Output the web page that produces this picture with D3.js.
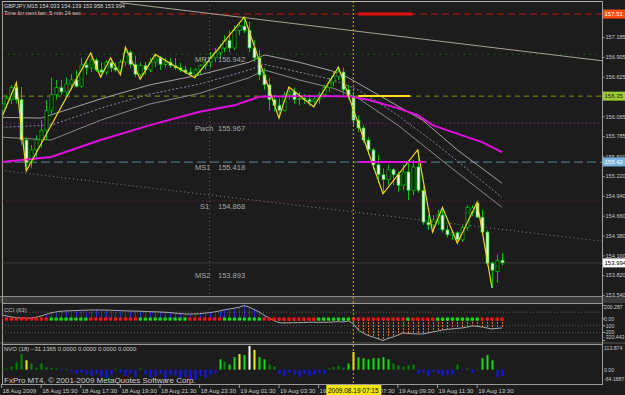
<!DOCTYPE html>
<html>
<head>
<meta charset="utf-8">
<script src="https://cdn.jsdelivr.net/npm/d3@7"></script>
<style>
  html, body { margin: 0; padding: 0; background: #1c1c1c; }
  svg { display: block; }
  text { font-family: "Liberation Sans", Arial, sans-serif; }
</style>
</head>
<body>
<div id="chart"></div>
<script>
// ---------- данные ----------
const symbol = 'GBPJPY,M15';
const firstBarTime = new Date(2009, 7, 18, 13, 30);
const barMinutes = 15;
const visibleBars = 121.2;

const barOpen = [156.15,156.24,156.30,156.47,156.30,155.73,155.41,155.59,155.73,155.87,
  156.15,156.37,156.47,156.41,156.52,156.58,156.49,156.79,156.75,156.86,
  156.72,156.69,156.83,156.75,156.72,156.83,156.97,156.80,156.66,156.78,
  156.72,156.83,156.89,156.80,156.83,156.78,156.75,156.72,156.69,156.66,
  156.72,156.78,156.83,156.89,156.97,157.03,157.14,157.03,157.28,157.34,
  157.28,157.03,156.89,156.65,156.51,156.30,156.22,156.15,156.37,156.41,
  156.30,156.32,156.30,156.27,156.31,156.37,156.47,156.55,156.63,156.69,
  156.44,156.35,156.01,155.90,155.73,155.59,155.38,155.24,155.17,155.31,
  155.24,155.09,155.28,155.02,155.35,155.02,154.57,154.53,154.60,154.67,
  154.46,154.39,154.42,154.32,154.49,154.70,154.84,154.64,154.43,153.99,
  153.87,154.033];
const barHigh = [156.30,156.37,156.51,156.54,156.48,155.77,155.66,155.80,156.01,156.30,
  156.61,156.58,156.58,156.61,156.66,156.72,156.89,156.86,156.96,156.89,
  156.83,156.86,156.89,156.83,156.86,157.04,157.00,156.92,156.83,156.83,
  156.89,156.94,156.92,156.89,156.89,156.89,156.82,156.78,156.75,156.75,
  156.80,156.89,156.97,157.03,157.09,157.21,157.28,157.35,157.40,157.47,
  157.40,157.14,157.00,156.75,156.61,156.37,156.32,156.41,156.48,156.47,
  156.41,156.38,156.37,156.35,156.41,156.51,156.61,156.69,156.76,156.75,
  156.51,156.41,156.08,155.94,155.77,155.62,155.52,155.33,155.38,155.33,
  155.28,155.38,155.45,155.45,155.59,155.09,154.67,154.67,154.74,154.78,
  154.53,154.46,154.44,154.53,154.81,154.81,154.85,154.74,154.46,154.01,
  154.11,154.139];
const barLow = [156.04,156.18,156.24,156.25,155.66,155.29,155.33,155.48,155.62,155.73,
  156.08,156.30,156.37,156.35,156.44,156.47,156.47,156.65,156.69,156.69,
  156.62,156.65,156.69,156.69,156.65,156.78,156.75,156.62,156.59,156.65,
  156.69,156.76,156.72,156.75,156.75,156.72,156.69,156.66,156.63,156.61,
  156.66,156.72,156.75,156.83,156.89,156.97,156.97,157.00,157.21,157.24,
  156.97,156.83,156.58,156.44,156.15,156.13,156.04,156.13,156.30,156.24,
  156.22,156.24,156.21,156.20,156.24,156.32,156.41,156.49,156.58,156.37,
  156.30,155.94,155.84,155.69,155.52,155.31,155.12,154.97,155.09,155.09,
  155.00,155.02,154.88,154.95,154.98,154.53,154.46,154.43,154.53,154.42,
  154.35,154.32,154.27,154.29,154.45,154.66,154.63,154.39,153.96,153.64,
  153.71,153.958];
const barClose = [156.24,156.32,156.47,156.30,155.73,155.41,155.59,155.73,155.87,156.15,
  156.37,156.47,156.41,156.52,156.58,156.49,156.79,156.75,156.86,156.72,
  156.69,156.83,156.75,156.72,156.83,156.97,156.80,156.66,156.78,156.72,
  156.83,156.89,156.80,156.83,156.78,156.75,156.72,156.69,156.66,156.72,
  156.78,156.83,156.89,156.97,157.03,157.14,157.03,157.28,157.34,157.28,
  157.03,156.89,156.65,156.51,156.30,156.22,156.15,156.37,156.41,156.30,
  156.32,156.30,156.27,156.31,156.37,156.47,156.55,156.63,156.69,156.44,
  156.35,156.01,155.90,155.73,155.59,155.38,155.24,155.17,155.31,155.24,
  155.09,155.28,155.02,155.35,155.02,154.57,154.53,154.60,154.67,154.46,
  154.39,154.42,154.32,154.49,154.78,154.77,154.64,154.43,153.99,153.89,
  154.03,153.994];

// вершины ZigZag: номер бара, чередуются минимум / максимум
const zigzagBars = [0,3,5,18,20,22,24,25,28,31,39,49,56,58,63,68,77,84,87,89,92,96,99];

// скользящие и огибающие: [бар, цена]
const maSlow = [[0,155.42],[10,155.49],[20,155.73],[30,155.94],[40,156.13],[47,156.22],[52,156.34],
  [60,156.35],[70,156.35],[74,156.30],[80,156.18],[84,156.08],[87,155.94],[94,155.77],[97,155.70],[101,155.56]];
const envUpper = [[0,156.05],[8,156.04],[12,156.13],[20,156.31],[30,156.51],[40,156.65],[50,156.83],[53,156.93],
  [54,156.92],[60,156.83],[67,156.70],[70,156.61],[76,156.37],[85,156.01],[92,155.59],[101,155.12]];
const envMid = [[0,155.91],[10,155.94],[20,156.18],[30,156.38],[40,156.52],[50,156.72],[53,156.80],[60,156.69],
  [67,156.58],[72,156.44],[80,156.08],[88,155.66],[101,154.92]];
const envLower = [[0,155.77],[10,155.73],[20,156.01],[30,156.24],[40,156.39],[50,156.61],[53,156.72],[60,156.58],
  [67,156.46],[72,156.32],[80,155.94],[90,155.38],[101,154.78]];
const trendTop = [[24,157.67],[121.2,156.85]];
const trendBottom = [[0,155.30],[121.2,154.30]];

const pivotNames = ['MR1', 'Pwch', 'MS1', 'S1', 'MS2'];
const pivotValues = [156.942, 155.967, 155.418, 154.868, 153.893];

// 156.345 закрыта меткой 156.35, поэтому её подпись не выводится
const priceTicks = [157.185,156.905,156.625,156.065,155.785,155.500,155.220,154.940,154.660,154.380,154.100,153.820,153.540];
const markerValues = [157.51, 156.35, 155.42, 153.994];
const markerLabels = ['157.51', '156.35', '155.42', '153.994'];

const cciValues = [60,45,30,20,15,12,15,25,45,70,
  90,105,115,119,122,125,128,130,134,134,
  134,132,130,127,124,120,119,117,115,112,
  108,106,104,100,95,88,80,75,72,75,
  78,88,95,105,120,135,150,160,175,200.287,
  175,140,104,55,15,-25,-55,-60,-58,-55,
  -55,-52,-50,-48,-50,-50,-48,-45,-40,-45,
  -30,-70,-164,-210,-245,-270,-295,-320.443,-290,-269,
  -240,-209,-215,-220,-222,-224,-210,-194,-180,-164,
  -155,-148,-140,-134,-120,-104,-110,-119,-135,-149,
  -140,-134];
const cciDots = 'rrrrrrrrrrggggggggrrrrrrrrrrggggggggggrrrrrrrggggggggrrrrrrrrrrrgggggggrrrrrrrrrrrgrrrrrgggggggggrrrrr';
const cciLevels = [100, -100, -200];

const nvoValues = [10,5,15,35,75,45,30,10,30,12,
  8,5,-5,4,-8,-20,-15,-25,-30,-20,
  -35,-40,-25,5,-15,-30,-20,-35,6,-25,
  -40,-30,-20,-45,-25,-30,-40,-35,-45,-50,
  -30,-40,-25,-20,50,40,25,60,75,70,
  113.874,95,60,50,25,15,-20,-30,-15,-25,
  -35,-20,-30,-25,-15,-20,5,12,20,10,
  30,85,60,55,50,55,55,60,50,30,
  20,15,20,25,-20,-15,-30,-10,-20,-30,
  -25,-25,25,-5,5,-15,3,55,70,45,
  -35,-31.1365];
const nvoColors = 'dddddyddddddbdbbbbbbbbbdbbbbdbbbbbbbbbbbbbbbldllylwylldd' +
  'bbbbbbbbbbddddlylllllllddddd' + 'bbbbbbbbdbdbdlllbb';

const timeTickTimes = ['2009-08-18 13:30','2009-08-18 15:30','2009-08-18 17:30','2009-08-18 19:30','2009-08-18 21:30',
  '2009-08-18 23:30','2009-08-19 01:30','2009-08-19 03:30','2009-08-19 05:30','2009-08-19 07:30','2009-08-19 09:30',
  '2009-08-19 11:30','2009-08-19 13:30'];
const timeTickLabels = ['18 Aug 2009','18 Aug 15:30','18 Aug 17:30','18 Aug 19:30','18 Aug 21:30','18 Aug 23:30',
  '19 Aug 01:30','19 Aug 03:30','19 Aug 05:30','19 Aug 07:30','19 Aug 09:30','19 Aug 11:30','19 Aug 13:30'];
const daySeparator = '2009-08-19 00:00';
const markedTime = '2009-08-19 07:15';

// ---------- настройки ----------
const W = 625;
const H = 395;
const BG = '#1c1c1c';
const GREEN = '#00c000';
const main = { left: 2, right: 602, top: 1, bottom: 296 };
const cciBox = { top: 303, bottom: 342, yTop: 305.5, yBottom: 340.5 };
const nvoBox = { top: 344, bottom: 384, yTop: 346, yBottom: 383 };

const parseTime = d3.timeParse('%Y-%m-%d %H:%M');
const barTime = (i) => d3.timeMinute.offset(firstBarTime, barMinutes * i);

const x = d3.scaleTime()
  .domain([firstBarTime, d3.timeMinute.offset(firstBarTime, barMinutes * visibleBars)])
  .range([1.5, 602]);
const xb = (i) => x(barTime(i));

const y = d3.scaleLinear().domain([153.526, 157.694]).range([main.bottom, main.top]);
const yCci = d3.scaleLinear().domain([-320.443, 200.287]).range([cciBox.yBottom, cciBox.yTop]);
const yNvo = d3.scaleLinear().domain([-64.1887, 113.874]).range([nvoBox.yBottom, nvoBox.yTop]);

const bars = barOpen.map((o, i) => ({
  i, o, h: barHigh[i], l: barLow[i], c: barClose[i],
}));

const svg = d3.select('#chart').append('svg')
  .attr('width', W)
  .attr('height', H);

svg.append('rect').attr('width', W).attr('height', H).attr('fill', BG);

const defs = svg.append('defs');
defs.append('clipPath').attr('id', 'clipMain').append('rect')
  .attr('x', main.left + 0.5).attr('y', main.top + 0.5)
  .attr('width', main.right - main.left - 0.5).attr('height', main.bottom - main.top - 0.5);
defs.append('clipPath').attr('id', 'clipCci').append('rect')
  .attr('x', main.left + 0.5).attr('y', cciBox.top + 0.5)
  .attr('width', main.right - main.left - 0.5).attr('height', cciBox.bottom - cciBox.top - 0.5);
defs.append('clipPath').attr('id', 'clipNvo').append('rect')
  .attr('x', main.left + 0.5).attr('y', nvoBox.top + 0.5)
  .attr('width', main.right - main.left - 0.5).attr('height', nvoBox.bottom - nvoBox.top - 0.5);

// ---------- рамки и разделители окон ----------
svg.append('rect').attr('x', 0).attr('y', main.bottom).attr('width', W).attr('height', cciBox.top - main.bottom)
  .attr('fill', '#3a3a3a');
svg.append('line').attr('x1', 0).attr('x2', main.right).attr('y1', main.bottom + 0.5).attr('y2', main.bottom + 0.5)
  .attr('stroke', '#8a8a8a');
svg.append('rect').attr('x', 0).attr('y', cciBox.bottom).attr('width', W).attr('height', nvoBox.top - cciBox.bottom)
  .attr('fill', '#3a3a3a');

const hLine = (yy, x1, x2, color) => svg.append('line')
  .attr('x1', x1).attr('x2', x2).attr('y1', yy).attr('y2', yy).attr('stroke', color);
hLine(main.top + 0.5, main.left, main.right, '#b4b4b4');
hLine(cciBox.top + 0.5, main.left, main.right, '#9a9a9a');
hLine(nvoBox.top + 0.5, main.left, main.right, '#9a9a9a');
hLine(nvoBox.bottom + 0.5, main.left, main.right, '#9a9a9a');
svg.append('line').attr('x1', main.left + 0.5).attr('x2', main.left + 0.5)
  .attr('y1', main.top).attr('y2', nvoBox.bottom).attr('stroke', '#a8a090');
svg.append('line').attr('x1', main.right + 0.5).attr('x2', main.right + 0.5)
  .attr('y1', main.top).attr('y2', nvoBox.bottom + 1).attr('stroke', '#a0a0a0');

// ---------- основное окно ----------
const gMain = svg.append('g').attr('clip-path', 'url(#clipMain)');

// вертикальные разделители
gMain.append('line')
  .attr('x1', x(parseTime(daySeparator))).attr('x2', x(parseTime(daySeparator)))
  .attr('y1', main.top).attr('y2', main.bottom)
  .attr('stroke', '#6a6a6a').attr('stroke-dasharray', '1,3');

// уровни
const levelLine = (v, color, dash, width = 1) => gMain.append('line')
  .attr('x1', main.left).attr('x2', main.right)
  .attr('y1', y(v)).attr('y2', y(v))
  .attr('stroke', color).attr('stroke-width', width).attr('stroke-dasharray', dash);
levelLine(markerValues[0], '#c81414', '7,4');
levelLine(markerValues[1], '#7a9a14', '5,4');
levelLine(pivotValues[0], '#127a12', '1,5');
levelLine(pivotValues[1], '#a020a0', '1,3');
levelLine(pivotValues[2], '#5a8a9a', '9,4');
levelLine(pivotValues[3], '#8a2424', '1,3');
levelLine(markerValues[3], '#3e3e3e', null);

// трендовые линии
const line = d3.line().x((d) => xb(d[0])).y((d) => y(d[1]));
gMain.append('path').attr('d', line(trendTop)).attr('fill', 'none')
  .attr('stroke', '#aaa496').attr('stroke-width', 1);
gMain.append('path').attr('d', line(trendBottom)).attr('fill', 'none')
  .attr('stroke', '#8a8a8a').attr('stroke-dasharray', '1,3');

// огибающие
gMain.append('path').attr('d', line(envUpper)).attr('fill', 'none').attr('stroke', '#a4a4a4');
gMain.append('path').attr('d', line(envMid)).attr('fill', 'none').attr('stroke', '#8c8cac')
  .attr('stroke-dasharray', '2,2');
gMain.append('path').attr('d', line(envLower)).attr('fill', 'none').attr('stroke', '#8c8c8c');

// свечи
const candles = gMain.selectAll('g.candle').data(bars).join('g').attr('class', 'candle');
candles.append('line')
  .attr('x1', (d) => Math.round(xb(d.i)) + 0.5).attr('x2', (d) => Math.round(xb(d.i)) + 0.5)
  .attr('y1', (d) => y(d.h)).attr('y2', (d) => y(d.l))
  .attr('stroke', GREEN);
candles.append('rect')
  .attr('x', (d) => Math.round(xb(d.i)) - 1)
  .attr('width', 3)
  .attr('y', (d) => y(Math.max(d.o, d.c)))
  .attr('height', (d) => Math.max(1, Math.abs(y(d.o) - y(d.c))))
  .attr('fill', (d) => (d.c < d.o ? '#ffffff' : '#000000'))
  .attr('stroke', GREEN).attr('stroke-width', 0.8);

// медленная скользящая
gMain.append('path').attr('d', line(maSlow)).attr('fill', 'none')
  .attr('stroke', '#e010e0').attr('stroke-width', 2);

// ZigZag
const zigzag = zigzagBars.map((b, k) => [b, k % 2 === 0 ? barLow[b] : barHigh[b]]);
gMain.append('path').attr('d', line(zigzag)).attr('fill', 'none')
  .attr('stroke', '#f2d21a').attr('stroke-width', 1.2);

// отметки уровней после 07:15
const segStart = 72;
const segEnds = [83, 82.5, 85.5];
const segColors = ['#e01010', '#ffe020', '#e010e0'];
const segWidths = [3, 2, 2];
[markerValues[0], markerValues[1], markerValues[2]].forEach((v, k) => {
  gMain.append('line')
    .attr('x1', xb(segStart)).attr('x2', xb(segEnds[k]))
    .attr('y1', y(v)).attr('y2', y(v))
    .attr('stroke', segColors[k]).attr('stroke-width', segWidths[k]);
});

// подписи пивотов
const pivotX = [195, 195, 195, 200, 195];
pivotNames.forEach((name, k) => {
  const ty = y(pivotValues[k]) + 8;
  svg.append('text').attr('x', pivotX[k]).attr('y', ty).text(name)
    .attr('fill', '#a8a8a8').attr('font-size', 7.5);
  svg.append('text').attr('x', 218).attr('y', ty).text(d3.format('.3f')(pivotValues[k]))
    .attr('fill', '#a8a8a8').attr('font-size', 7.5);
});

// заголовок
svg.append('text').attr('x', 4).attr('y', 8)
  .text(`${symbol}  ${d3.format('.3f')(barOpen[101])} ${d3.format('.3f')(barHigh[101])} ${d3.format('.3f')(barLow[101])} ${d3.format('.3f')(barClose[101])}`)
  .attr('fill', '#d8d8d8').attr('font-size', 5.6);
svg.append('text').attr('x', 4).attr('y', 15).text('Time for next bar: 5 min 24 sec')
  .attr('fill', '#c8c8c8').attr('font-size', 5.6);

// ценовая шкала
const yAxis = svg.append('g')
  .attr('transform', `translate(${main.right + 0.5},0)`)
  .call(d3.axisRight(y).tickValues(priceTicks).tickSize(2).tickPadding(1)
    .tickFormat(d3.format('.3f')));
yAxis.select('.domain').remove();
yAxis.selectAll('line').attr('stroke', '#a0a0a0');
yAxis.selectAll('text').attr('fill', '#c8c8c8').attr('font-size', 5.6)
  .attr('font-family', '"Liberation Sans", Arial, sans-serif');

const markerBg = ['#ff4a10', '#9acd32', '#7ab4e0', '#ffffff'];
const markerFg = ['#ffffff', '#1c1c1c', '#ffffff', '#000000'];
markerValues.forEach((v, k) => {
  svg.append('rect').attr('x', main.right + 1).attr('y', y(v) - 4.5).attr('width', 22).attr('height', 9)
    .attr('fill', markerBg[k]);
  svg.append('text').attr('x', main.right + 2.5).attr('y', y(v) + 2.3).text(markerLabels[k])
    .attr('fill', markerFg[k]).attr('font-size', 6);
});

// ---------- окно CCI ----------
const gCci = svg.append('g').attr('clip-path', 'url(#clipCci)');
const cciZero = yCci(0);
cciLevels.forEach((lv) => {
  gCci.append('line').attr('x1', main.left).attr('x2', main.right)
    .attr('y1', yCci(lv)).attr('y2', yCci(lv))
    .attr('stroke', '#5a5a5a').attr('stroke-dasharray', '1,2');
});
gCci.selectAll('line.hist').data(cciValues).join('line').attr('class', 'hist')
  .attr('x1', (d, i) => Math.round(xb(i)) + 0.5).attr('x2', (d, i) => Math.round(xb(i)) + 0.5)
  .attr('y1', cciZero).attr('y2', (d) => yCci(d))
  .attr('stroke', (d) => (d >= 0 ? '#2a2ad8' : '#e0702a'))
  .attr('stroke-dasharray', (d) => (d >= 0 ? null : '2,1'));
gCci.append('path')
  .attr('d', d3.line().x((d, i) => xb(i)).y((d) => yCci(d))(cciValues))
  .attr('fill', 'none').attr('stroke', '#a8a8a8');
gCci.selectAll('rect.dot').data(cciDots.split('')).join('rect').attr('class', 'dot')
  .attr('x', (d, i) => xb(i) - 1.5).attr('y', cciZero - 1.5)
  .attr('width', 3.2).attr('height', 3.2)
  .attr('fill', (d) => (d === 'r' ? '#ff1010' : '#10e010'));
svg.append('text').attr('x', 4).attr('y', 312).text('CCI (63)')
  .attr('fill', '#c0c0c0').attr('font-size', 6);

const cciAxisValues = [200.287, 0, -100, -200, -320.443];
const cciAxisLabels = ['200.287', '0.00', '-100', '-200', '-320.443'];
cciAxisValues.forEach((v, k) => {
  const ty = Math.min(cciBox.bottom - 3, Math.max(cciBox.top + 6, yCci(v) + 2));
  svg.append('text').attr('x', 604).attr('y', ty).text(cciAxisLabels[k])
    .attr('fill', '#c8c8c8').attr('font-size', 5.2);
  svg.append('line').attr('x1', main.right).attr('x2', main.right + 3).attr('y1', yCci(v)).attr('y2', yCci(v))
    .attr('stroke', '#a0a0a0');
});

// ---------- окно NVO ----------
const gNvo = svg.append('g').attr('clip-path', 'url(#clipNvo)');
const nvoPalette = { d: '#008a00', l: '#10e010', y: '#f0f010', w: '#ffffff', b: '#1414ff' };
gNvo.selectAll('rect.bar').data(nvoValues).join('rect').attr('class', 'bar')
  .attr('x', (d, i) => Math.round(xb(i)) - 0.5).attr('width', 2)
  .attr('y', (d) => Math.min(yNvo(0), yNvo(d)))
  .attr('height', (d) => Math.abs(yNvo(d) - yNvo(0)))
  .attr('fill', (d, i) => nvoPalette[nvoColors[i]]);
svg.append('text').attr('x', 4).attr('y', 351)
  .text(`NVO (18) ${d3.format('.4f')(nvoValues[101])} 0.0000 0.0000 0.0000 0.0000`)
  .attr('fill', '#c8c8c8').attr('font-size', 6);
const nvoAxisValues = [113.874, 0, -64.1887];
const nvoAxisLabels = ['113.874', '0.00', '-64.1887'];
nvoAxisValues.forEach((v, k) => {
  const ty = Math.min(nvoBox.bottom - 3, Math.max(nvoBox.top + 6, yNvo(v) + 2));
  svg.append('text').attr('x', 604).attr('y', ty).text(nvoAxisLabels[k])
    .attr('fill', '#c8c8c8').attr('font-size', 5.2);
});

// вертикальная линия отмеченного бара во всех окнах
const markX = x(parseTime(markedTime));
svg.append('line').attr('x1', markX).attr('x2', markX).attr('y1', main.top).attr('y2', nvoBox.bottom)
  .attr('stroke', '#c8b400').attr('stroke-dasharray', '2,2');

svg.append('text').attr('x', 4).attr('y', 383)
  .text('FxPro MT4, \u00a9 2001-2009 MetaQuotes Software Corp.')
  .attr('fill', '#d0d0d0').attr('font-size', 8);

// ---------- шкала времени ----------
timeTickTimes.forEach((t, k) => {
  const tx = x(parseTime(t));
  svg.append('line').attr('x1', tx).attr('x2', tx).attr('y1', nvoBox.bottom).attr('y2', nvoBox.bottom + 4)
    .attr('stroke', '#a0a0a0');
  svg.append('text').attr('x', tx + 1).attr('y', 393).text(timeTickLabels[k])
    .attr('fill', '#c8c8c8').attr('font-size', 6);
});
svg.append('rect').attr('x', markX - 27).attr('y', 385).attr('width', 55).attr('height', 10)
  .attr('fill', '#f4e600');
svg.append('text').attr('x', markX).attr('y', 393).attr('text-anchor', 'middle')
  .text(d3.timeFormat('%Y.%m.%d %H:%M')(parseTime(markedTime)))
  .attr('fill', '#000000').attr('font-size', 6.5);
</script>
</body>
</html>
